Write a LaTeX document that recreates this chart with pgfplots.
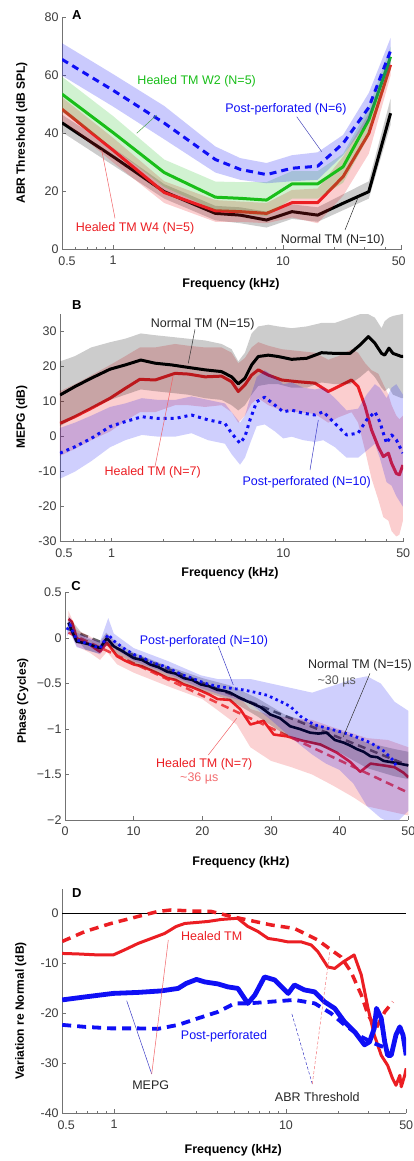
\documentclass[border=0pt]{standalone}
\usepackage{fontspec}
\setmainfont{Liberation Sans}
\usepackage{pgfplots}
\pgfplotsset{compat=1.18}
\usepackage{pgfplotstable}

\definecolor{cB}{RGB}{15,15,245}
\definecolor{cR}{RGB}{235,30,35}
\definecolor{cG}{RGB}{25,190,25}
\definecolor{tk}{RGB}{60,60,60}
\newcommand\lab{\fontsize{12.5}{14}\selectfont}

% ---------------- Panel A (ABR thresholds), mean lines ----------------
\pgfplotstableread{
f m
0.5 43.7
1 32
2 19.9
4 12.4
5.6 11.8
8 10.1
11.3 13.0
16 11.8
22.6 15.9
32 19.9
43 47
}\AK
\pgfplotstableread{
f m
0.5 48.4
1 34.2
2 19.6
4 13.3
5.6 13.0
8 12.4
11.3 16.1
16 16.1
22.6 25.1
32 40
43 63.7
}\AR
\pgfplotstableread{
f m
0.5 53.6
1 40.3
2 26.5
4 18.0
5.6 17.6
8 17.0
11.3 22.6
16 22.6
22.6 28.5
32 44.7
43 66.5
}\AG
\pgfplotstableread{
f m
0.5 65.6
1 54.9
2 43.6
4 31.0
5.6 27.6
8 25.8
11.3 28.0
16 28.7
22.6 36.6
32 49
43 68.6
}\AB

% ---------------- Panel B (MEPG), mean lines ----------------
\pgfplotstableread{
f m
0.5 11.9
0.61 14.3
0.76 16.7
0.98 19.3
1.2 20.5
1.48 21.9
1.79 21.0
2.24 20.5
2.79 19.8
3.5 19.1
4.37 18.6
5.0 17.1
5.47 15.1
5.98 16.7
6.54 20.5
7.15 22.9
8.18 23.3
9.36 22.9
11.2 22.1
13.7 22.4
16.7 24.0
20 23.8
24.5 23.8
28 26.2
31.3 28.6
34.2 26.7
37.4 23.8
39 23.3
41.3 25.3
43.6 23.8
49 22.9
50 23.0
}\BK
\pgfplotstableread{
f m
0.5 3.8
0.61 5.7
0.76 8.1
0.98 11
1.2 13.8
1.46 16.4
1.79 16.2
2.34 18.1
2.79 17.9
3.5 17.1
4.37 17.3
5.0 15.7
5.47 12.9
5.98 14.8
6.54 17.6
7.15 19.1
8.18 17.6
9.8 16.2
12.2 15.7
15.3 15.3
18.3 12.9
20.9 14.3
25 16.2
27.3 14.3
30 8.6
32.7 1.9
35.8 -2.9
38.3 -5.7
41 -4.7
42.8 -7.6
45.6 -10.5
47.5 -10.9
49.8 -8.1
}\BR
\pgfplotstableread{
f m
0.5 -4.7
0.61 -2.9
0.76 -0.5
0.98 2.9
1.2 4.3
1.5 5.7
1.87 5.2
2.34 5.2
2.92 6.2
3.65 4.8
4.57 3.8
5.0 1
5.6 -1.9
5.98 0
6.4 4.8
7.0 10
7.8 11.3
8.95 9
10 7.1
11.2 7.6
13.1 6.7
15.3 6.2
17.1 7.1
20 3.8
23.4 0.5
27.3 1
30.6 4.8
34.2 7.1
36.5 4.3
40 -1.9
42.8 0.5
45.6 -0.9
49.8 -4.7
}\BB

% ---------------- Panel C (phase), mean lines ----------------
\pgfplotstableread{
f m
0.5 0.17
1 0.08
1.7 -0.04
2.5 -0.05
3.6 -0.07
4.3 -0.09
5.1 -0.11
6.1 0.0
7.1 -0.09
8.5 -0.15
10 -0.22
11.2 -0.24
12.4 -0.29
13.6 -0.32
14.9 -0.37
16.1 -0.39
17.3 -0.44
18.5 -0.46
19.8 -0.51
21 -0.53
22.2 -0.57
23.2 -0.58
24.05 -0.60
25.5 -0.66
27 -0.71
28.5 -0.76
29.9 -0.84
31.3 -0.88
32.8 -0.97
34.2 -1.00
35.7 -1.04
36.9 -1.05
38.1 -1.04
39.3 -1.12
40.6 -1.15
41.5 -1.18
42.5 -1.22
43.5 -1.25
44.5 -1.30
45.5 -1.31
46.4 -1.35
48 -1.37
50 -1.40
}\CK
\pgfplotstableread{
f m
0.5 0.21
1 0.18
1.7 0.0
2.5 -0.03
3.6 -0.07
4.3 -0.11
5.1 -0.15
6.1 -0.05
7.6 -0.2
8.8 -0.25
10 -0.29
11.2 -0.31
12.4 -0.35
13.6 -0.39
14.9 -0.44
16.1 -0.46
17.3 -0.51
18.5 -0.54
19.8 -0.58
21 -0.62
22.2 -0.67
24 -0.68
25.5 -0.78
27 -0.95
28.9 -0.91
30.4 -1.06
32.3 -1.08
34.7 -1.13
37.2 -1.17
39.6 -1.26
41.5 -1.36
43 -1.47
44.5 -1.38
46.4 -1.40
48 -1.42
49.3 -1.48
50 -1.53
}\CR
\pgfplotstableread{
f m
0.3 0.09
0.7 0.15
1.7 -0.02
2.5 -0.04
3.6 -0.07
4.3 -0.09
5.1 -0.11
6.3 0.04
7.1 -0.03
8.5 -0.11
10 -0.18
11.2 -0.21
12.4 -0.26
13.6 -0.29
14.9 -0.32
16.1 -0.37
17.3 -0.41
18.5 -0.44
19.8 -0.48
21 -0.51
22.2 -0.53
24 -0.55
26 -0.57
27.9 -0.6
29.5 -0.63
30.9 -0.68
32.8 -0.75
34.3 -0.86
36.2 -0.95
38.6 -1.0
40.6 -1.04
42.5 -1.09
44.5 -1.15
46.4 -1.24
47.9 -1.35
48.3 -1.42
}\CB
\pgfplotstableread{
f kfit rfit
0.5 0.1 0.06
50 -1.4 -1.7
}\Cfit

% ---------------- Panel D (variation re normal) ----------------
\pgfplotstableread{
f y
0.5 -8.0
0.617 -8.1
0.81 -8.3
0.99 -8.3
1.15 -7.3
1.38 -6.0
1.65 -5.0
1.97 -4.0
2.3 -2.6
2.58 -2.0
3.02 -1.8
3.52 -1.6
4.2 -1.2
5.03 -1.0
5.25 -1.0
6.0 -2.6
6.87 -3.6
7.87 -5.0
9.0 -5.3
10.3 -5.7
12.3 -5.7
14.0 -6.3
15.3 -7.6
17.5 -10.7
19.2 -11.0
21.5 -9.7
24.9 -8.3
27.4 -12.3
30 -19
32.6 -24.3
35.8 -28.4
39 -30.4
41.6 -33
43.6 -34.4
45.9 -32.4
46.8 -34.7
49 -32.4
50 -31
}\DRm
\pgfplotstableread{
f y
0.5 -5.6
0.68 -3.6
0.96 -2.0
1.38 -0.6
1.8 0.4
2.15 0.7
2.8 0.5
3.68 0.4
4.8 -0.6
6.0 -1.3
8.2 -2.3
11.2 -3.0
15.3 -5.3
18.3 -7.3
20.9 -8.7
23.9 -11.7
27.4 -16.3
30 -20.3
33.4 -23
37.5 -19.7
41.8 -17.7
}\DRa
\pgfplotstableread{
f y
0.5 -17.3
0.68 -16.7
0.99 -16.0
1.38 -15.8
1.88 -15.5
2.36 -15.0
2.63 -14.0
3.02 -13.2
3.37 -13.7
4.02 -14.1
4.6 -14.7
5.25 -15.0
6.0 -18.0
6.6 -16.3
7.5 -12.7
8.6 -13.3
10.3 -16.0
11.2 -14.3
12.8 -15.3
14.7 -15.7
16.8 -17.7
19.2 -19.0
21.9 -21.7
25.1 -23.7
28.6 -26.3
30.6 -25.7
32.6 -23
33.6 -19
35.8 -21
37.5 -25.7
39 -28.4
40.9 -28.4
43.6 -24.3
45.9 -22.7
47.9 -24.3
50 -28.4
}\DBm
\pgfplotstableread{
f y
0.5 -22.3
0.68 -22.7
0.96 -23.0
1.38 -23.0
1.8 -23.1
2.36 -22.3
3.07 -21.0
4.02 -19.7
5.03 -18.0
6.0 -18.0
7.9 -17.7
11.2 -17.3
14.7 -18.0
18.3 -20
21.9 -22.3
27.4 -24.7
32.6 -26
36.7 -26.7
}\DBa
\pgfplotstableread{
f y
0.5 0
50 0
}\DZ

\pgfplotsset{
  mypanel/.style={scale only axis, anchor=south west,
    axis x line*=bottom, axis y line*=left,
    axis line style={-, draw=black!55, line width=0.6pt},
    tick align=inside, major tick length=4pt, minor tick length=2.5pt,
    every tick/.style={draw=black!55, line width=0.5pt},
    ticklabel style={font=\lab, text=tk},
    xticklabel style={yshift=-3.5pt},
    /pgf/number format/assume math mode=true},
}
\tikzset{myln/.style={line width=3pt, line join=round},
  band/.style={draw=none, fill opacity=0.22}}

\begin{document}
\begin{tikzpicture}
\useasboundingbox (0,0) rectangle (413pt,1161pt);

% ===== A =====
\begin{axis}[mypanel, xmode=log, xmin=0.5, xmax=50, xtick={0.5,1,10,50},
  xticklabels={\hspace*{10pt}0.5,1,10,50\hspace*{6pt}}, minor xtick={0.6,0.7,0.8,0.9,2,3,4,5,6,7,8,9,20,30,40},
  at={(62pt,911.7pt)}, width=339.7pt, height=231.6pt,
  ymin=0, ymax=80, ytick={0,20,40,60,80}, yticklabels={0,20,40,60,80}]
\addplot[band, fill=black, fill opacity=0.2] coordinates {(0.5,46.5)(1,35)(2,22.5)(4,15)(5.6,14.5)(8,13)(11.3,15.5)(16,14.5)(22.6,19)(32,23.5)(43,52)(43,43)(32,17.5)(22.6,13.5)(16,9.5)(11.3,10.5)(8,7.5)(5.6,9)(4,10)(2,17.5)(1,29)(0.5,40.5)};
\addplot[myln, black] table[x=f,y=m]{\AK};
\addplot[band, fill=cR] coordinates {(0.5,52.5)(1,38.5)(2,23.5)(4,17)(5.6,16.5)(8,16)(11.3,20.5)(16,21)(22.6,32)(32,47)(43,66)(43,60)(32,33)(22.6,18.5)(16,9)(11.3,11)(8,9)(5.6,9.5)(4,9.5)(2,16)(1,30)(0.5,44.5)};
\addplot[myln, cR] table[x=f,y=m]{\AR};
\addplot[band, fill=cG, fill opacity=0.2] coordinates {(0.5,59.6)(1,46)(2,31)(4,23.4)(5.6,23.2)(8,23.2)(11.3,27)(16,27)(22.6,33)(32,49)(43,70)(43,62)(32,39)(22.6,23)(16,17.5)(11.3,17.5)(8,11.5)(5.6,12.5)(4,13.5)(2,21.5)(1,35)(0.5,47.5)};
\addplot[myln, cG] table[x=f,y=m]{\AG};
\addplot[band, fill=cB] coordinates {(0.5,71.2)(1,60.5)(2,49.5)(4,35.5)(5.6,31.5)(8,29.8)(11.3,32.5)(16,33.5)(22.6,39.5)(32,54)(43,73)(43,64.2)(32,44.5)(22.6,32.5)(16,24)(11.3,23.5)(8,22.8)(5.6,24)(4,26.5)(2,38)(1,49.3)(0.5,60)};
\addplot[myln, cB, dash pattern=on 7pt off 5pt] table[x=f,y=m]{\AB};
\end{axis}

% ===== B =====
\begin{axis}[mypanel, xmode=log, xmin=0.5, xmax=50, xtick={0.5,1,10,50},
  xticklabels={\hspace*{8pt}0.5,1,10,50}, minor xtick={0.6,0.7,0.8,0.9,2,3,4,5,6,7,8,9,20,30,40},
  at={(60pt,619.3pt)}, width=343.2pt, height=227.5pt,
  ymin=-30, ymax=35, ytick={-30,-20,-10,0,10,20,30},
  yticklabels={-30,-20,-10,0,10,20,30}]
\addplot[band, fill=cR] coordinates {(0.5,13)(0.61,15)(0.76,17.5)(0.98,20.5)(1.2,23)(1.46,25.5)(1.79,25.5)(2.34,26.5)(2.79,26)(3.5,25.5)(4.37,25.5)(5.0,24)(5.47,21)(5.98,22.5)(6.54,25.5)(7.15,27)(8.18,26)(9.8,25)(12.2,24.5)(15.3,24)(18.3,22)(20.9,23)(25,25)(27.3,24)(30,21)(32.7,19)(35.8,18)(38.3,15)(41,12)(42.8,9)(45.6,6)(47.5,5)(49.8,6)
 (49.8,-24)(47.5,-28)(45.6,-28.5)(42.8,-27)(41,-24)(38.3,-23)(35.8,-18)(32.7,-12)(30,-4)(27.3,4)(25,7)(20.9,5.5)(18.3,4)(15.3,6.5)(12.2,7)(9.8,7.5)(8.18,9)(7.15,11)(6.54,9.5)(5.98,6)(5.47,4)(5.0,7)(4.37,9)(3.5,8.5)(2.79,9)(2.34,9)(1.79,7)(1.46,7)(1.2,4.5)(0.98,1.5)(0.76,-1)(0.61,-3.5)(0.5,-5.5)};
\addplot[myln, cR] table[x=f,y=m]{\BR};
\addplot[band, fill=black, fill opacity=0.2] coordinates {(0.5,21.5)(0.61,23)(0.76,25.5)(0.98,27)(1.2,28)(1.48,29.5)(1.79,29)(2.24,28.5)(2.79,28)(3.5,27.5)(4.37,26.5)(5.0,25)(5.47,21.5)(5.98,24)(6.54,29.5)(7.15,31.5)(8.18,32)(9.36,31.5)(11.2,31)(13.7,31.5)(16.7,32.5)(20,32.5)(24.5,34)(28,35)(31.3,35)(34.2,34)(37.4,31)(39,33)(41.3,34)(43.6,34.5)(49,35)(50,35)
 (50,11)(49,11)(43.6,12)(41.3,14)(39,13)(37.4,14)(34.2,17)(31.3,19)(28,17)(24.5,15)(20,15)(16.7,15.5)(13.7,14)(11.2,14)(9.36,15)(8.18,15)(7.15,14.5)(6.54,12)(5.98,9)(5.47,7.5)(5.0,9)(4.37,10.5)(3.5,11)(2.79,12)(2.24,12.5)(1.79,13)(1.48,13.5)(1.2,12)(0.98,10.5)(0.76,8)(0.61,5.5)(0.5,3)};
\addplot[myln, black] table[x=f,y=m]{\BK};
\addplot[band, fill=cB, fill opacity=0.2] coordinates {(0.5,2.5)(0.61,4)(0.76,6)(0.98,8.5)(1.2,9.5)(1.5,11)(1.87,10.5)(2.34,10.5)(2.92,11.5)(3.65,10.5)(4.57,9.5)(5.0,7)(5.6,4)(5.98,6)(6.4,11)(7.0,17)(7.8,19)(8.95,17)(10,15)(11.2,15.5)(13.1,14)(15.3,13.5)(17.1,14)(20,11)(23.4,7.5)(27.3,8)(30.6,12)(34.2,15)(36.5,14)(40,11)(42.8,14)(45.6,15)(49.8,12)
 (49.8,-20)(45.6,-17)(42.8,-14)(40,-13)(36.5,-6)(34.2,-2)(30.6,-4)(27.3,-6)(23.4,-6)(20,-3)(17.1,-1)(15.3,-1.5)(13.1,-1)(11.2,0)(10,-0.5)(8.95,1.5)(7.8,3.5)(7.0,3)(6.4,-2)(5.98,-6)(5.6,-8)(5.0,-5)(4.57,-2)(3.65,-1)(2.92,1)(2.34,0)(1.87,0)(1.5,0.5)(1.2,-1)(0.98,-3)(0.76,-7)(0.61,-10)(0.5,-12)};
\addplot[myln, cB, dash pattern=on 3pt off 4pt] table[x=f,y=m]{\BB};
\end{axis}

% ===== C =====
\begin{axis}[mypanel, at={(65pt,341pt)}, width=343.3pt, height=227.4pt,
  xmin=0, xmax=50, xtick={0,10,20,30,40,50}, xticklabels={0,10,20,30,40,50},
  ymin=-2, ymax=0.5, ytick={-2,-1.5,-1,-0.5,0,0.5},
  yticklabels={−2,−1.5,−1,−0.5,0,0.5}]
\addplot[line width=2.5pt, cR!80, dash pattern=on 8pt off 5pt] table[x=f,y=rfit]{\Cfit};
\addplot[line width=2.5pt, black!60, dash pattern=on 8pt off 5pt] table[x=f,y=kfit]{\Cfit};
\addplot[band, fill=cR, fill opacity=0.2] coordinates {(0.5,0.3)(1.7,0.09)(3.6,0.02)(5.1,-0.06)(6.1,0.05)(7.6,-0.11)(10,-0.2)(15,-0.35)(20,-0.49)(22,-0.56)(25,-0.62)(27,-0.78)(30,-0.85)(33,-0.88)(36,-0.9)(39,-0.98)(42,-1.05)(44,-1.1)(47,-1.12)(50,-1.2)
 (50,-1.95)(47,-1.9)(44,-1.85)(42,-1.75)(39,-1.62)(36,-1.5)(33,-1.42)(30,-1.35)(27,-1.2)(25,-0.95)(22,-0.78)(20,-0.67)(15,-0.53)(10,-0.38)(7.6,-0.29)(6.1,-0.15)(5.1,-0.24)(3.6,-0.16)(1.7,-0.09)(0.5,0.12)};
\addplot[myln, cR, line width=2.6pt] table[x=f,y=m]{\CR};
\addplot[band, fill=black, fill opacity=0.2] coordinates {(0.5,0.24)(3,0.0)(5,-0.05)(6,0.06)(7.5,-0.05)(10,-0.16)(15,-0.31)(20,-0.44)(24,-0.52)(28,-0.66)(32,-0.84)(36,-0.94)(40,-1.02)(44,-1.15)(48,-1.22)(50,-1.25)
 (50,-1.55)(48,-1.52)(44,-1.43)(40,-1.26)(36,-1.16)(32,-1.06)(28,-0.86)(24,-0.68)(20,-0.58)(15,-0.43)(10,-0.28)(7.5,-0.17)(6,-0.06)(5,-0.17)(3,-0.13)(0.5,0.10)};
\addplot[myln, black, line width=2.6pt] table[x=f,y=m]{\CK};
\addplot[band, fill=cB, fill opacity=0.2] coordinates {(0.3,0.16)(0.7,0.23)(1.7,0.06)(3.6,0.0)(5.1,-0.04)(6.3,0.22)(7.1,0.05)(10,-0.11)(14.9,-0.25)(19.8,-0.41)(22.2,-0.45)(24,-0.45)(27,-0.45)(30,-0.5)(33,-0.55)(36,-0.6)(38,-0.55)(40,-0.5)(42,-0.45)(44,-0.42)(46,-0.5)(48,-0.7)(50,-0.8)
 (50,-1.9)(48,-2.05)(46,-1.98)(44,-1.85)(42,-1.6)(40,-1.45)(38,-1.38)(36,-1.28)(33,-1.1)(30,-0.9)(27,-0.72)(24,-0.65)(22.2,-0.61)(19.8,-0.55)(14.9,-0.39)(10,-0.25)(7.1,-0.11)(6.3,-0.05)(5.1,-0.18)(3.6,-0.14)(1.7,-0.1)(0.7,0.07)(0.3,0.02)};
\addplot[myln, cB, line width=2.8pt, dash pattern=on 2.6pt off 3.4pt] table[x=f,y=m]{\CB};
\end{axis}

% ===== D =====
\begin{axis}[mypanel, xmode=log, xmin=0.5, xmax=50, xtick={0.5,1,10,50},
  xticklabels={\hspace*{8pt}0.5,1,10,50}, minor xtick={0.6,0.7,0.8,0.9,2,3,4,5,6,7,8,9,20,30,40},
  at={(62.2pt,47.7pt)}, width=344pt, height=224.8pt,
  ymin=-40, ymax=5, ytick={-40,-30,-20,-10,0},
  yticklabels={-40,-30,-20,-10,0}]
\addplot[black, line width=1.1pt] table[x=f,y=y]{\DZ};
\addplot[cR, line width=3.5pt, dash pattern=on 9pt off 6pt] table[x=f,y=y]{\DRa};
\addplot[myln, cR] table[x=f,y=y]{\DRm};
\addplot[cB, line width=3.8pt, dash pattern=on 9pt off 6pt] table[x=f,y=y]{\DBa};
\addplot[myln, cB, line width=4.8pt] table[x=f,y=y]{\DBm};
\end{axis}

% ===== labels and annotations (image pixel coordinates) =====
\begin{scope}[shift={(0pt,1161pt)}, x=1pt, y=-1pt, every node/.style={inner sep=0pt}]
\node[font=\fontsize{13}{15}\selectfont\bfseries] at (76.7,15) {A};
\node[font=\fontsize{13}{15}\selectfont\bfseries] at (76.7,305) {B};
\node[font=\fontsize{13}{15}\selectfont\bfseries] at (76,586) {C};
\node[font=\fontsize{13}{15}\selectfont\bfseries] at (76.7,893) {D};
\node[font=\lab\bfseries] at (231,284) {Frequency (kHz)};
\node[font=\lab\bfseries] at (230,573.3) {Frequency (kHz)};
\node[font=\lab\bfseries] at (241,862) {Frequency (kHz)};
\node[font=\lab\bfseries] at (233.3,1150.7) {Frequency (kHz)};
\node[font=\fontsize{12}{14}\selectfont\bfseries, rotate=90] at (21.7,133) {ABR Threshold (dB SPL)};
\node[font=\fontsize{12}{14}\selectfont\bfseries, rotate=90] at (21.7,417) {MEPG (dB)};
\node[font=\fontsize{12}{14}\selectfont\bfseries, rotate=90] at (22.7,701) {Phase (Cycles)};
\node[font=\fontsize{12}{14}\selectfont\bfseries, rotate=90] at (20.7,1011) {Variation re Normal (dB)};
% A annotations
\node[font=\lab, text=cG] at (196.7,81.7) {Healed TM W2 (N=5)};
\draw[cG!50!gray, line width=0.5pt] (156.7,115) -- (136.7,133.3);
\node[font=\lab, text=cB] at (286,109.3) {Post-perforated (N=6)};
\draw[cB!50!gray, line width=0.5pt] (296.7,116.7) -- (321.7,151.7);
\node[font=\lab, text=cR] at (135,228.3) {Healed TM W4 (N=5)};
\draw[cR!70, line width=0.5pt] (115,218.3) -- (101.7,150);
\node[font=\lab, text=black!85] at (332.7,240) {Normal TM (N=10)};
\draw[black!80, line width=0.5pt] (345,230) -- (358.3,196.7);
% B annotations
\node[font=\lab, text=black!85] at (202.7,324) {Normal TM (N=15)};
\draw[black!80, line width=0.5pt] (195,329.3) -- (188.3,363.3);
\node[font=\lab, text=cR] at (152.7,472.3) {Healed TM (N=7)};
\draw[cR!70, line width=0.5pt] (155,466.7) -- (173.3,375);
\node[font=\lab, text=cB] at (306.7,482.3) {Post-perforated (N=10)};
\draw[cB!60!gray, line width=0.5pt] (310,470) -- (318.3,420);
% C annotations
\node[font=\lab, text=cB] at (204,641) {Post-perforated (N=10)};
\draw[cB!60!gray, line width=0.5pt] (218.3,646) -- (233.3,685);
\node[font=\lab, text=black!85] at (360,665) {Normal TM (N=15)};
\node[font=\lab, text=black!65] at (336.7,681) {\textasciitilde30 µs};
\draw[black!80, line width=0.5pt] (370,673.3) -- (343.3,736.7);
\node[font=\lab, text=cR] at (204.3,764) {Healed TM (N=7)};
\node[font=\lab, text=cR!65] at (199.3,778.3) {\textasciitilde36 µs};
\draw[cR!70, line width=0.5pt] (208.3,755) -- (236.7,718.3);
% D annotations
\node[font=\lab, text=cR] at (211.7,936) {Healed TM};
\node[font=\lab, text=cB] at (224,1036) {Post-perforated};
\node[font=\lab, text=black!85] at (150.7,1085) {MEPG};
\draw[cB!60!gray, line width=0.5pt] (151.7,1074) -- (126.7,1000.7);
\draw[cR!70, line width=0.5pt] (151.7,1074) -- (168.3,940);
\node[font=\lab, text=black!85] at (317.3,1096.7) {ABR Threshold};
\draw[cB!60!gray, line width=0.5pt, dash pattern=on 3pt off 2pt] (312.3,1084) -- (291.7,1013.3);
\draw[cR!60, line width=0.5pt, dash pattern=on 3pt off 2pt] (312.3,1084) -- (330,950);
\end{scope}
\end{tikzpicture}
\end{document}
